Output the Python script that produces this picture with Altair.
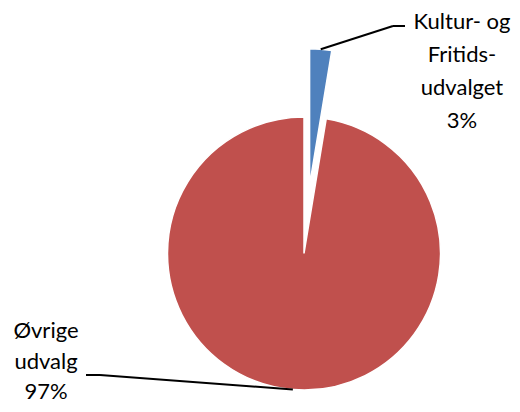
import altair as alt
import pandas as pd

categories = ["Kultur- og Fritidsudvalget", "Øvrige udvalg"]
shares = [2.6, 97.4]
label_texts = ["Kultur- og\nFritids-\nudvalget\n3%", "Øvrige\nudvalg\n97%"]
colors = ["#4F81BD", "#C0504D"]

df = pd.DataFrame({
    "category": categories,
    "share": shares,
    "label": label_texts,
    "order": list(range(len(categories))),
})

W, H = 504, 396
CX, CY, R, EXPLODE = 296, 245.5, 136.5, 68.5

base = (
    alt.Chart(df)
    .transform_joinaggregate(total="sum(share)")
    .transform_window(cum="sum(share)", sort=[alt.SortField("order")])
    .transform_calculate(
        t1="2*PI*datum.cum/datum.total",
        t0="2*PI*(datum.cum-datum.share)/datum.total",
    )
    .transform_calculate(
        mid="(datum.t0+datum.t1)/2",
        ex=f"datum.order==0 ? {EXPLODE} : 0",
    )
    .transform_calculate(
        cx=f"{CX} + datum.ex*sin(datum.mid)",
        cy=f"{CY} - datum.ex*cos(datum.mid)",
    )
    .transform_calculate(
        sx=f"datum.cx + {R}*sin(datum.mid)",
        sy=f"datum.cy - {R}*cos(datum.mid)",
        bx="datum.order==0 ? 385 : 92",
        by="datum.order==0 ? 18 : 367",
        ux="datum.order==0 ? 397 : 78",
        lx="datum.order==0 ? 454 : 38",
        ly="datum.order==0 ? 21 : 330",
    )
)

arcs = base.mark_arc(radius=R, stroke="white", strokeWidth=1.5).encode(
    theta=alt.Theta("t0:Q", scale=None),
    theta2="t1:Q",
    x=alt.X("cx:Q", scale=None, axis=None),
    y=alt.Y("cy:Q", scale=None, axis=None),
    color=alt.Color("category:N", scale=alt.Scale(domain=categories, range=colors), legend=None),
)

lead1 = base.mark_rule(color="black", strokeWidth=2).encode(
    x=alt.X("sx:Q", scale=None, axis=None),
    y=alt.Y("sy:Q", scale=None, axis=None),
    x2="bx:Q",
    y2="by:Q",
)
lead2 = base.mark_rule(color="black", strokeWidth=2).encode(
    x=alt.X("bx:Q", scale=None, axis=None),
    y=alt.Y("by:Q", scale=None, axis=None),
    x2="ux:Q",
    y2="by:Q",
)

labels_top = base.transform_filter("datum.order==0").mark_text(
    lineBreak="\n", font="Lato", fontSize=22, align="center",
    baseline="alphabetic", lineHeight=33, color="black",
).encode(
    x=alt.X("lx:Q", scale=None, axis=None),
    y=alt.Y("ly:Q", scale=None, axis=None),
    text="label:N",
)
labels_bottom = base.transform_filter("datum.order==1").mark_text(
    lineBreak="\n", font="Lato", fontSize=22, align="center",
    baseline="alphabetic", lineHeight=30.5, color="black",
).encode(
    x=alt.X("lx:Q", scale=None, axis=None),
    y=alt.Y("ly:Q", scale=None, axis=None),
    text="label:N",
)

chart = (
    alt.layer(arcs, lead1, lead2, labels_top, labels_bottom)
    .properties(width=W, height=H, padding=0, autosize=alt.AutoSizeParams(type="none"))
    .configure_view(stroke=None)
)

chart.save("out.html", embed_options={"renderer": "svg", "actions": False})
